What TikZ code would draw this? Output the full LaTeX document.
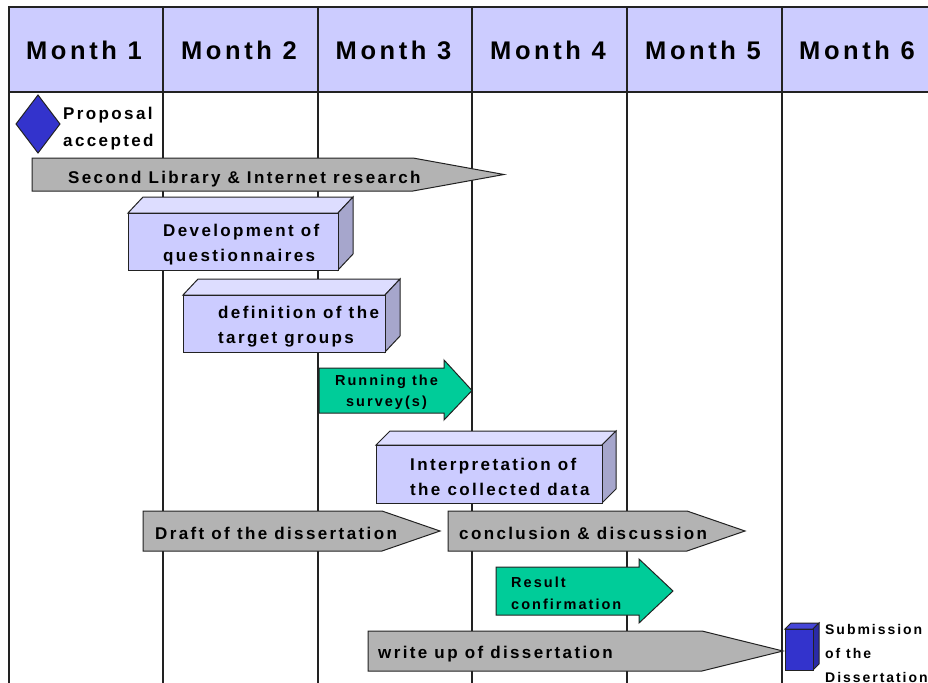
\documentclass[tikz,border=0pt]{standalone}
\usepackage{fontspec}
\setmainfont{Liberation Sans}[LetterSpace=14]
\definecolor{hdrc}{HTML}{CCCCFF}
\definecolor{boxfront}{HTML}{CCCCFF}
\definecolor{boxtop}{HTML}{DDDDFF}
\definecolor{boxside}{HTML}{A6A6CC}
\definecolor{grayc}{HTML}{B3B3B3}
\definecolor{greenc}{HTML}{00CC99}
\definecolor{bluec}{HTML}{3333CC}
\definecolor{bluetop}{HTML}{4646D8}
\definecolor{blueside}{HTML}{2A2AA6}
\definecolor{linec}{HTML}{222222}
\tikzset{
  gridline/.style={draw=linec, line width=1.1pt},
  hdrcell/.style={fill=hdrc, draw=linec, line width=1.1pt},
  monthlbl/.style={font=\fontsize{25.5}{28}\selectfont\bfseries, inner sep=0pt},
  lbl/.style={font=\fontsize{17}{25}\selectfont\bfseries, inner sep=0pt, anchor=west, align=left, yshift=-1.8pt},
  smalllbl/.style={font=\fontsize{14.5}{21}\selectfont\bfseries, inner sep=0pt, yshift=-1pt},
  shapeline/.style={draw=linec, line width=1pt, line join=miter},
}
% front top-left x1,y1; front bottom-right x2,y2; depth dx,dy; colours front/top/side
\newcommand\ganttbox[9]{%
  \filldraw[shapeline, fill=#8] (#1,#2) -- ({#1+#5},{#2-#6}) -- ({#3+#5},{#2-#6}) -- (#3,#2) -- cycle;
  \filldraw[shapeline, fill=#9] (#3,#2) -- ({#3+#5},{#2-#6}) -- ({#3+#5},{#4-#6}) -- (#3,#4) -- cycle;
  \filldraw[shapeline, fill=#7] (#1,#2) rectangle (#3,#4);
}
% x1,y1,x2,y2, slant start xs, tip xt
\newcommand\grayarrow[6]{%
  \filldraw[shapeline, fill=grayc] (#1,#2) -- (#5,#2) -- (#6,{(#2+#4)/2}) -- (#5,#4) -- (#1,#4) -- cycle;
}
% x1,y1,x2(shaft end),y2, head top, head bottom, tip
\newcommand\greenarrow[7]{%
  \filldraw[shapeline, fill=greenc] (#1,#2) -- (#3,#2) -- (#3,#5) -- (#7,{(#2+#4)/2}) -- (#3,#6) -- (#3,#4) -- (#1,#4) -- cycle;
}
\begin{document}
\begin{tikzpicture}[x=1pt,y=-1pt]
\useasboundingbox (0,0) rectangle (928,682);
\clip (0,0) rectangle (928,682);
% header
\filldraw[hdrcell] (9,7) rectangle (960,92);
\foreach \xx in {9,163,318,472,627,782,937} {
  \draw[gridline] (\xx,7) -- (\xx,690);
}
\node[monthlbl] (m1) at (84,50) {Month 1};
\node[monthlbl] (m2) at (239,50) {Month 2};
\node[monthlbl] (m3) at (393.5,50) {Month 3};
\node[monthlbl] (m4) at (548,50) {Month 4};
\node[monthlbl] (m5) at (703,50) {Month 5};
\node[monthlbl] (m6) at (857,50) {Month 6};
% proposal accepted
\filldraw[shapeline, fill=bluec] (38,95) -- (60,124) -- (38,153) -- (16,124) -- cycle;
\node[lbl, font=\fontsize{17}{27}\selectfont\bfseries] (prop) at (63,126.5) {Proposal\\accepted};
% second library
\grayarrow{32}{158}{504}{191}{413}{504}
\node[lbl] (lib) at (68,177) {Second Library \& Internet research};
% development
\ganttbox{128}{213}{338}{270}{15}{16}{boxfront}{boxtop}{boxside}
\node[lbl] (dev) at (163,242.5) {Development of\\questionnaires};
% definition
\ganttbox{183}{295}{385}{352}{15}{16}{boxfront}{boxtop}{boxside}
\node[lbl] (def) at (218,324.5) {definition of the\\target groups};
% running survey
\greenarrow{319}{368}{444}{413}{360}{420}{472}
\node[smalllbl, align=center] (run) at (386.5,391.5) {Running the\\survey(s)};
% interpretation
\ganttbox{376}{445}{602}{503}{14}{14}{boxfront}{boxtop}{boxside}
\node[lbl] (interp) at (410,475) {Interpretation of\\the collected data};
% draft
\grayarrow{143}{511}{440}{551}{382}{440}
\node[lbl] (draft) at (155,532) {Draft of the dissertation};
% conclusion
\grayarrow{448}{511}{745}{551}{687}{745}
\node[lbl] (concl) at (459,532) {conclusion \& discussion};
% result confirmation
\greenarrow{496}{567}{639}{615}{559}{623}{673}
\node[smalllbl, anchor=west, align=left, font=\fontsize{14.5}{22}\selectfont\bfseries] (res) at (511,592) {Result\\confirmation};
% write up
\grayarrow{368}{631}{783}{671}{702}{783}
\node[lbl] (write) at (378,652) {write up of dissertation};
% submission cube
\ganttbox{785}{629}{813}{670}{6}{6}{bluec}{bluetop}{blueside}
\node[smalllbl, anchor=west, align=left, font=\fontsize{14}{24}\selectfont\bfseries] (sub) at (825,652) {Submission\\of the\\Dissertation};
\end{tikzpicture}
\end{document}
